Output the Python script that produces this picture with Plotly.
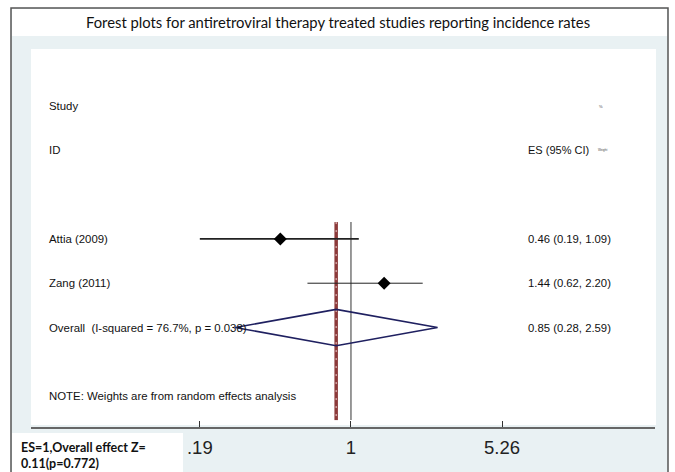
import plotly.graph_objects as go

# ---- data ----
studies = ["Attia (2009)", "Zang (2011)"]
es = [0.46, 1.44]
ci_low = [0.19, 0.62]
ci_high = [1.09, 2.20]
es_text = ["0.46 (0.19, 1.09)", "1.44 (0.62, 2.20)"]

overall_label = "Overall  (I-squared = 76.7%, p = 0.038)"
overall_es = 0.85
overall_low = 0.28
overall_high = 2.59
overall_text = "0.85 (0.28, 2.59)"

null_value = 1
tick_values = [0.19, 1, 5.26]
tick_text = [".19", "1", "5.26"]

title_text = "Forest plots for antiretroviral therapy treated studies reporting incidence rates"
note_text = "NOTE: Weights are from random effects analysis"
effect_lines = ["ES=1,Overall effect Z=", "0.11(p=0.772)"]

# ---- layout helpers (pixel -> paper) ----
W, H = 675, 472
def px(x):
    return x / W
def py(y):
    return 1 - y / H

study_rows = [3, 4]
overall_row = 5
note_row = 6.55
diamond_half = 0.41
ref_top, ref_bottom = 2.62, 7.09

ARIAL = "Liberation Sans, Arial, sans-serif"

fig = go.Figure()

# reference line at the null value
fig.add_trace(go.Scatter(
    x=[null_value, null_value], y=[ref_top, ref_bottom], mode="lines",
    line=dict(color="#777777", width=1.5), hoverinfo="skip", showlegend=False))

# pooled estimate line
fig.add_trace(go.Scatter(
    x=[overall_es, overall_es], y=[ref_top, ref_bottom], mode="lines",
    line=dict(color="#8c3a3a", width=3.5), hoverinfo="skip", showlegend=False))
fig.add_trace(go.Scatter(
    x=[overall_es, overall_es], y=[ref_top, ref_bottom], mode="lines",
    line=dict(color="#ecd0d0", width=1, dash="2px,6px"), hoverinfo="skip", showlegend=False))

# confidence intervals
ci_widths = [1.6, 1.0]
for lo, hi, r, w in zip(ci_low, ci_high, study_rows, ci_widths):
    fig.add_trace(go.Scatter(
        x=[lo, hi], y=[r, r], mode="lines",
        line=dict(color="#222222", width=w), hoverinfo="skip", showlegend=False))

# point estimates
fig.add_trace(go.Scatter(
    x=es, y=study_rows, mode="markers",
    marker=dict(symbol="diamond", size=10, color="black"),
    showlegend=False))

# overall diamond
fig.add_trace(go.Scatter(
    x=[overall_low, overall_es, overall_high, overall_es, overall_low],
    y=[overall_row, overall_row - diamond_half, overall_row,
       overall_row + diamond_half, overall_row],
    mode="lines", line=dict(color="#1f2060", width=1.6),
    hoverinfo="skip", showlegend=False))

annotations = []
def left_text(t, row, size=11.4):
    annotations.append(dict(x=px(47), y=row, xref="paper", yref="y", text=t,
                            showarrow=False, xanchor="left", yanchor="middle",
                            font=dict(family=ARIAL, size=size, color="#111111")))
def right_text(t, row, size=11.3):
    annotations.append(dict(x=px(526), y=row, xref="paper", yref="y", text=t,
                            showarrow=False, xanchor="left", yanchor="middle",
                            font=dict(family=ARIAL, size=size, color="#111111")))

left_text("Study", 0)
left_text("ID", 1)
right_text("ES (95% CI)", 1, 11)
annotations.append(dict(x=px(596), y=1, xref="paper", yref="y", text="Weight",
                        showarrow=False, xanchor="left", yanchor="middle",
                        font=dict(family=ARIAL, size=3, color="#444444")))
annotations.append(dict(x=px(597), y=0, xref="paper", yref="y", text="%",
                        showarrow=False, xanchor="left", yanchor="middle",
                        font=dict(family=ARIAL, size=4, color="#444444")))
for name, txt, r in zip(studies, es_text, study_rows):
    left_text(name, r)
    right_text(txt, r)
left_text(overall_label, overall_row)
right_text(overall_text, overall_row)
left_text(note_text, note_row)

# title
annotations.append(dict(x=px(338), y=py(22), xref="paper", yref="paper", text=title_text,
                        showarrow=False, xanchor="center", yanchor="middle",
                        font=dict(family="Lato, sans-serif", size=14.8, color="#111111")))
# effect summary box text
annotations.append(dict(x=px(20), y=py(455), xref="paper", yref="paper",
                        text="<br>".join("<b>" + s + "</b>" for s in effect_lines),
                        showarrow=False, xanchor="left", yanchor="middle", align="left",
                        borderpad=0,
                        font=dict(family="Lato, sans-serif", size=12.5, color="#111111")))

shapes = [
    # outer panel
    dict(type="rect", xref="paper", yref="paper", x0=px(11), x1=px(668), y0=py(480), y1=py(8),
         fillcolor="#e9f1f3", line=dict(color="#555555", width=1.5), layer="below"),
    # title band
    dict(type="rect", xref="paper", yref="paper", x0=px(12), x1=px(667), y0=py(36), y1=py(9),
         fillcolor="white", line=dict(width=0), layer="below"),
    # plot region
    dict(type="rect", xref="paper", yref="paper", x0=px(31), x1=px(656), y0=py(425), y1=py(49),
         fillcolor="white", line=dict(width=0), layer="below"),
    # effect summary box
    dict(type="rect", xref="paper", yref="paper", x0=px(12), x1=px(183), y0=py(473), y1=py(433),
         fillcolor="white", line=dict(width=0), layer="below"),
]

fig.update_layout(
    width=W, height=H,
    margin=dict(l=0, r=0, t=0, b=0),
    paper_bgcolor="white",
    plot_bgcolor="rgba(0,0,0,0)",
    annotations=annotations,
    shapes=shapes,
    xaxis=dict(type="log", domain=[px(31), px(655)], range=[-1.527, 1.451],
               showgrid=False, zeroline=False, showline=True, linecolor="#666666", linewidth=2,
               ticks="inside", ticklen=6, tickwidth=1, tickcolor="#333333",
               tickvals=tick_values, ticktext=tick_text, ticklabelstandoff=3,
               tickfont=dict(family=ARIAL, size=18.5, color="#222222"), fixedrange=True),
    yaxis=dict(domain=[py(427), py(49)], range=[7.246, -1.287],
               showgrid=False, zeroline=False, showline=False, showticklabels=False,
               ticks="", fixedrange=True),
)

fig.write_html("out.html")
